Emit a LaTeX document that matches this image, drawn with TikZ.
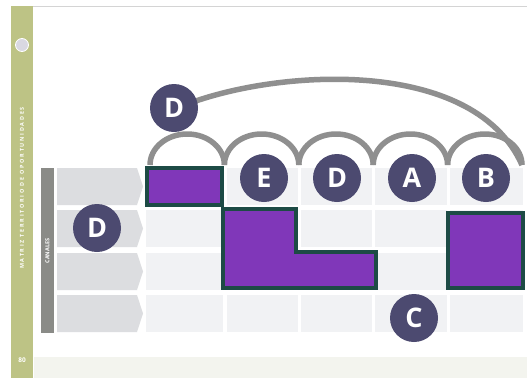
\documentclass[tikz,border=0pt]{standalone}
\usepackage{fontspec}
\newfontfamily\lblfont{Open Sans}
\definecolor{sidegreen}{HTML}{BDC385}
\definecolor{topline}{HTML}{D4D4D4}
\definecolor{bandcol}{HTML}{F3F4EE}
\definecolor{barcol}{HTML}{8A8B87}
\definecolor{chevcol}{HTML}{DCDDE0}
\definecolor{cellcol}{HTML}{F1F2F4}
\definecolor{archgray}{HTML}{8F8F8F}
\definecolor{purp}{HTML}{8037B9}
\definecolor{tealb}{HTML}{1D4B45}
\definecolor{badgecol}{HTML}{4C4A70}
\definecolor{logocol}{HTML}{D9D8E2}
\tikzset{
  cellbox/.style={fill=cellcol, draw=none, inner sep=0, anchor=north west},
  chevron/.style={fill=chevcol, draw=none},
  archline/.style={draw=archgray, line width=5.5pt},
  purpbox/.style={fill=purp, draw=tealb, line width=3.5pt, line join=miter},
  badge/.style={circle, fill=badgecol, minimum size=48pt, inner sep=0pt, text=white,
    font=\lblfont\bfseries\fontsize{27}{27}\selectfont},
}
\begin{document}
\begin{tikzpicture}[x=1pt,y=-1pt]
\useasboundingbox (0,0) rectangle (527,378);
\fill[white] (0,0) rectangle (527,378);
% page decorations
\fill[sidegreen] (11,6) rectangle (33,378);
\draw[topline, line width=1pt] (33,6) -- (527,6);
\fill[bandcol] (34,357) rectangle (527,378);
\node[circle, fill=logocol, draw=white, line width=0.8pt, minimum size=13pt, inner sep=0] (logo) at (22,45) {};
\node[rotate=90, text=white, font=\lblfont\bfseries\fontsize{5.4}{6}\selectfont\addfontfeature{LetterSpace=32}] (sidetitle) at (22,188) {MATRIZ TERRITORIO DE OPORTUNIDADES};
\node[text=white, font=\lblfont\bfseries\fontsize{6.5}{7}\selectfont] (pagenum) at (22,360) {80};
% channels bar
\node[fill=barcol, minimum width=13pt, minimum height=165pt, inner sep=0, anchor=north west] (bar) at (41,168) {};
\node[rotate=90, text=white, font=\lblfont\bfseries\fontsize{5.5}{6}\selectfont] (canales) at (47.5,251) {CANALES};
% chevrons
\foreach \t/\b in {168/205, 210/247, 253/290, 295/332}{
  \fill[chevron] (57,\t) -- (137,\t) -- (143,{(\t+\b)/2}) -- (137,\b) -- (57,\b) -- cycle;
}
% cells
\foreach \r/\t/\h in {1/168/37, 2/210/37, 3/253/37, 4/295/37}{
  \foreach \c/\l/\w in {1/146/77, 2/227/71, 3/301/71, 4/375/72, 5/450/73}{
    \node[cellbox, minimum width=\w pt, minimum height=\h pt] (c\r\c) at (\l,\t) {};
  }
}
% arches
\foreach \s in {150, 224.4, 298.8, 373.2, 447.6}{
  \draw[archline] (\s,165) arc[start angle=180, end angle=0, x radius=37.2pt, y radius=31pt];
}
\coordinate (bigstart) at (173,110);
\coordinate (bigend) at (522,165);
\draw[archline] (bigstart) .. controls (260,70) and (472,52) .. (bigend);
% purple blocks
\draw[purpbox] (147,168) rectangle (222,205);
\draw[purpbox] (223,209) -- (296,209) -- (296,252) -- (376,252) -- (376,288) -- (223,288) -- cycle;
\draw[purpbox] (448,213) rectangle (523,288);
% badges
\node[badge] (dtop) at (174,108) {D};
\node[badge] (e) at (264,178) {E};
\node[badge] (d2) at (337,178) {D};
\node[badge] (a) at (412,178) {A};
\node[badge] (b) at (486,178) {B};
\node[badge] (c) at (414,318) {C};
\node[badge] (dleft) at (97,228) {D};
\end{tikzpicture}
\end{document}
